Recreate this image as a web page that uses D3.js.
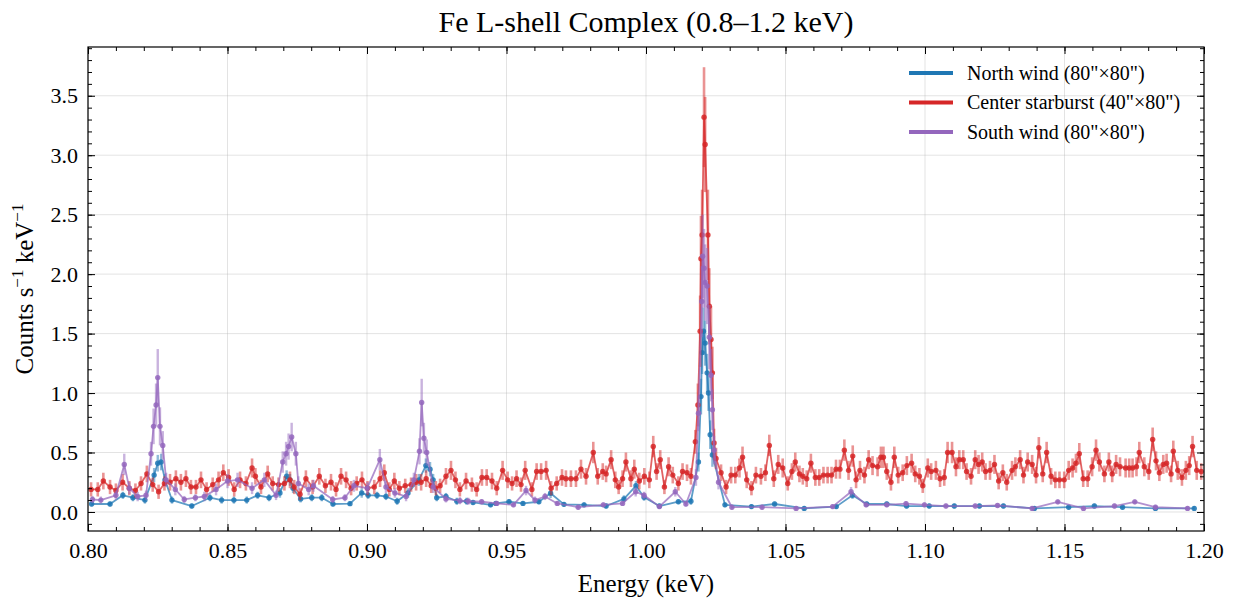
<!DOCTYPE html>
<html>
<head>
<meta charset="utf-8">
<script src="https://cdn.jsdelivr.net/npm/d3@7/dist/d3.min.js"></script>
<style>
  body { margin: 0; background: #fff; }
  svg text { font-family: "Liberation Serif", "Times New Roman", serif; fill: #000; }
</style>
</head>
<body>
<div id="chart"></div>
<script>
// ---- data ----
const seriesNames = ['North wind (80"×80")', 'Center starburst (40"×80")', 'South wind (80"×80")']
const seriesColors = ['#1f77b4', '#d62728', '#9467bd']

const xTicks = [0.80, 0.85, 0.90, 0.95, 1.00, 1.05, 1.10, 1.15, 1.20]
const xTickLabels = ['0.80', '0.85', '0.90', '0.95', '1.00', '1.05', '1.10', '1.15', '1.20']
const yTicks = [0, 0.5, 1.0, 1.5, 2.0, 2.5, 3.0, 3.5]
const yTickLabels = ['0.0', '0.5', '1.0', '1.5', '2.0', '2.5', '3.0', '3.5']

// North wind
const northE = [0.8013,0.8079,0.8125,0.8161,0.8204,0.8237,0.8250,0.8262,0.8276,0.8301,
  0.8372,0.8437,0.8479,0.8523,0.8569,0.8608,0.8649,0.8688,0.8712,0.8724,
  0.8735,0.8762,0.8802,0.8838,0.8878,0.8939,0.8981,0.9004,0.9036,0.9068,
  0.9108,0.9147,0.9186,0.9211,0.9226,0.9237,0.9250,0.9283,0.9322,0.9357,
  0.9380,0.9443,0.9462,0.9509,0.9559,0.9616,0.9658,0.9706,0.9778,0.9857,
  0.9921,0.9964,0.9993,1.0048,1.0116,1.0161,1.0188,1.0197,1.0201,1.0206,
  1.0212,1.0219,1.0224,1.0230,1.0238,1.0283,1.0378,1.0461,1.0567,1.0682,
  1.0740,1.0791,1.0863,1.0934,1.1015,1.1105,1.1195,1.1281,1.1392,1.1515,
  1.1607,1.1708,1.1826,1.1965]
const northY = [0.067,0.067,0.14,0.12,0.10,0.31,0.41,0.42,0.27,0.10,
  0.05,0.12,0.10,0.10,0.10,0.14,0.12,0.16,0.30,0.27,
  0.20,0.11,0.12,0.12,0.067,0.07,0.16,0.14,0.14,0.13,
  0.09,0.16,0.27,0.39,0.36,0.27,0.12,0.13,0.09,0.09,
  0.08,0.06,0.072,0.086,0.072,0.086,0.157,0.064,0.06,0.05,
  0.11,0.22,0.124,0.05,0.086,0.09,0.42,0.97,1.34,1.52,
  1.42,1.17,1.00,0.65,0.48,0.06,0.045,0.067,0.03,0.045,
  0.14,0.067,0.067,0.05,0.05,0.05,0.05,0.05,0.03,0.04,
  0.05,0.04,0.03,0.03]
const northErr = [0.02,0.02,0.03,0.03,0.03,0.06,0.07,0.07,0.05,0.03,
  0.02,0.03,0.03,0.03,0.03,0.03,0.03,0.04,0.05,0.05,
  0.04,0.03,0.03,0.03,0.02,0.02,0.04,0.03,0.03,0.03,
  0.03,0.04,0.05,0.06,0.06,0.05,0.03,0.03,0.03,0.03,
  0.02,0.02,0.02,0.02,0.02,0.02,0.04,0.02,0.02,0.02,
  0.03,0.04,0.03,0.02,0.02,0.03,0.08,0.15,0.18,0.20,
  0.19,0.16,0.15,0.12,0.10,0.02,0.02,0.02,0.02,0.02,
  0.03,0.02,0.02,0.02,0.02,0.02,0.02,0.02,0.02,0.02,
  0.02,0.02,0.02,0.02]

// Center starburst
const centerE = [0.8011,0.8035,0.8055,0.8079,0.8100,0.8124,0.8148,0.8170,0.8190,0.8211,
  0.8232,0.8253,0.8274,0.8294,0.8315,0.8333,0.8351,0.8369,0.8387,0.8405,
  0.8425,0.8447,0.8468,0.8485,0.8504,0.8524,0.8545,0.8566,0.8588,0.8600,
  0.8620,0.8644,0.8662,0.8683,0.8704,0.8724,0.8739,0.8760,0.8781,0.8805,
  0.8829,0.8851,0.8871,0.8889,0.8907,0.8925,0.8943,0.8963,0.8982,0.9002,
  0.9026,0.9047,0.9062,0.9080,0.9098,0.9116,0.9137,0.9158,0.9176,0.9194,
  0.9212,0.9230,0.9247,0.9262,0.9283,0.9301,0.9317,0.9333,0.9355,0.9376,
  0.9393,0.9412,0.9429,0.9448,0.9465,0.9486,0.9504,0.9520,0.9536,0.9552,
  0.9567,0.9591,0.9608,0.9624,0.9642,0.9660,0.9680,0.9699,0.9713,0.9731,
  0.9749,0.9767,0.9785,0.9811,0.9827,0.9845,0.9857,0.9875,0.9890,0.9902,
  0.9916,0.9928,0.9946,0.9958,0.9976,0.9994,1.0012,
  1.0026,1.0038,1.0051,1.0066,1.0081,1.0096,1.0116,1.0131,1.0147,1.0161,
  1.0177,1.0186,1.0194,1.0197,1.0201,1.0208,1.0212,1.0222,1.0227,1.0233,
  1.0238,1.0244,1.0251,
  1.0269,1.0287,1.0305,1.0320,1.0335,1.0346,1.0361,1.0378,1.0394,1.0412,
  1.0428,1.0442,1.0458,1.0474,1.0490,1.0508,1.0523,1.0535,1.0550,1.0562,
  1.0576,1.0591,1.0607,1.0621,1.0636,1.0651,1.0665,1.0681,1.0695,1.0711,
  1.0726,1.0741,1.0753,1.0767,1.0783,1.0798,1.0812,1.0830,1.0842,1.0851,
  1.0863,1.0878,1.0890,1.0904,1.0920,1.0935,1.0952,1.0965,1.0980,1.0992,
  1.1010,
  1.1022,1.1039,1.1054,1.1069,1.1081,1.1097,1.1111,1.1123,1.1137,1.1149,
  1.1165,1.1180,1.1192,1.1205,1.1217,1.1233,1.1249,1.1264,1.1279,1.1293,
  1.1312,1.1324,1.1341,1.1353,1.1368,1.1384,1.1398,1.1408,1.1422,1.1436,
  1.1452,1.1467,1.1482,1.1499,1.1515,1.1529,1.1541,1.1553,1.1567,1.1583,
  1.1599,1.1613,1.1625,1.1643,1.1659,1.1671,1.1685,1.1699,1.1719,1.1732,
  1.1744,1.1758,1.1768,1.1786,1.1802,1.1816,1.1828,1.1840,1.1854,1.1866,
  1.1882,1.1890,1.1906,1.1921,1.1935,1.1947,1.1959,1.1974,1.1990]
const centerY = [0.19,0.19,0.26,0.21,0.18,0.25,0.20,0.18,0.24,0.32,
  0.23,0.17,0.24,0.25,0.28,0.25,0.28,0.21,0.21,0.27,
  0.19,0.23,0.27,0.33,0.29,0.19,0.27,0.24,0.37,0.30,
  0.21,0.32,0.24,0.23,0.24,0.27,0.21,0.15,0.28,0.21,
  0.30,0.22,0.25,0.19,0.30,0.27,0.20,0.24,0.27,0.20,
  0.21,0.28,0.33,0.19,0.26,0.20,0.22,0.23,0.25,0.25,
  0.28,0.22,0.20,0.22,0.30,0.35,0.27,0.19,0.26,0.23,
  0.19,0.29,0.29,0.26,0.20,0.35,0.27,0.24,0.28,0.23,
  0.35,0.19,0.34,0.34,0.35,0.20,0.24,0.29,0.28,0.28,
  0.28,0.36,0.30,0.50,0.30,0.34,0.32,0.44,0.27,0.21,
  0.28,0.42,0.28,0.36,0.26,0.30,0.27,
  0.55,0.34,0.44,0.21,0.38,0.31,0.24,0.34,0.33,0.30,
  0.59,0.90,1.52,2.13,2.33,3.32,3.09,2.33,1.73,1.45,
  1.17,0.58,0.45,
  0.33,0.21,0.31,0.31,0.37,0.46,0.27,0.20,0.31,0.30,
  0.33,0.56,0.28,0.40,0.37,0.24,0.34,0.42,0.32,0.30,
  0.28,0.41,0.29,0.29,0.31,0.31,0.31,0.36,0.36,0.52,
  0.35,0.47,0.27,0.35,0.31,0.44,0.39,0.38,0.46,0.46,
  0.34,0.25,0.46,0.31,0.33,0.39,0.41,0.32,0.30,0.22,
  0.37,
  0.34,0.35,0.28,0.29,0.50,0.50,0.38,0.44,0.44,0.34,
  0.30,0.44,0.40,0.42,0.34,0.35,0.40,0.26,0.33,0.25,
  0.35,0.38,0.44,0.31,0.42,0.40,0.31,0.54,0.32,0.50,
  0.30,0.27,0.27,0.27,0.35,0.37,0.41,0.49,0.28,0.28,
  0.38,0.52,0.42,0.32,0.42,0.32,0.40,0.38,0.37,0.37,
  0.37,0.38,0.50,0.38,0.34,0.61,0.43,0.33,0.40,0.41,
  0.32,0.51,0.35,0.29,0.35,0.39,0.55,0.35,0.34]
const centerErr = [0.06,0.06,0.07,0.06,0.06,0.07,0.06,0.06,0.06,0.07,
  0.06,0.06,0.06,0.07,0.07,0.07,0.07,0.06,0.06,0.07,
  0.06,0.06,0.07,0.07,0.07,0.06,0.07,0.06,0.08,0.07,
  0.06,0.07,0.06,0.06,0.06,0.07,0.06,0.05,0.07,0.06,
  0.07,0.06,0.07,0.06,0.07,0.07,0.06,0.06,0.07,0.06,
  0.06,0.07,0.07,0.06,0.07,0.06,0.06,0.06,0.07,0.07,
  0.07,0.06,0.06,0.06,0.07,0.08,0.07,0.06,0.07,0.06,
  0.06,0.07,0.07,0.07,0.06,0.08,0.07,0.06,0.07,0.06,
  0.08,0.06,0.07,0.07,0.08,0.06,0.06,0.07,0.07,0.07,
  0.07,0.08,0.07,0.09,0.07,0.07,0.07,0.08,0.07,0.06,
  0.07,0.08,0.07,0.08,0.07,0.07,0.07,
  0.09,0.07,0.08,0.06,0.08,0.07,0.06,0.07,0.07,0.07,
  0.10,0.18,0.30,0.36,0.38,0.42,0.40,0.38,0.32,0.28,
  0.22,0.12,0.09,
  0.07,0.06,0.07,0.07,0.08,0.09,0.07,0.06,0.07,0.07,
  0.07,0.09,0.07,0.08,0.08,0.06,0.07,0.08,0.07,0.07,
  0.07,0.08,0.07,0.07,0.07,0.07,0.07,0.08,0.08,0.09,
  0.08,0.09,0.07,0.08,0.07,0.08,0.08,0.08,0.09,0.09,
  0.07,0.07,0.09,0.07,0.07,0.08,0.08,0.07,0.07,0.06,
  0.08,
  0.07,0.08,0.07,0.07,0.09,0.09,0.08,0.08,0.08,0.07,
  0.07,0.08,0.08,0.08,0.07,0.08,0.08,0.07,0.07,0.07,
  0.08,0.08,0.08,0.07,0.08,0.08,0.07,0.09,0.07,0.09,
  0.07,0.07,0.07,0.07,0.08,0.08,0.08,0.09,0.07,0.07,
  0.08,0.09,0.08,0.07,0.08,0.07,0.08,0.08,0.08,0.08,
  0.08,0.08,0.09,0.08,0.07,0.10,0.08,0.07,0.08,0.08,
  0.07,0.09,0.08,0.07,0.08,0.08,0.09,0.08,0.07]

// South wind
const southE = [0.8016,0.8046,0.8100,0.8130,0.8148,0.8178,0.8208,0.8226,0.8235,0.8244,
  0.8250,0.8258,0.8268,0.8280,0.8313,0.8345,0.8385,0.8417,0.8459,0.8500,
  0.8536,0.8588,0.8632,0.8674,0.8698,0.8710,0.8719,0.8730,0.8745,0.8754,
  0.8791,0.8808,0.8877,0.8921,0.8953,0.9001,0.9046,0.9068,0.9100,0.9140,
  0.9168,0.9188,0.9196,0.9204,0.9214,0.9237,0.9283,0.9333,0.9363,0.9411,
  0.9465,0.9525,0.9570,0.9602,0.9638,0.9682,0.9757,0.9847,0.9916,0.9963,
  0.9993,1.0048,1.0105,1.0143,1.0179,1.0188,1.0200,1.0203,1.0208,1.0212,
  1.0219,1.0227,1.0233,1.0238,1.0244,1.0260,1.0308,1.0416,1.0538,1.0669,
  1.0735,1.0789,1.0863,1.0932,1.0998,1.1075,1.1180,1.1260,1.1384,1.1476,
  1.1568,1.1679,1.1752,1.1826,1.1941]
const southY = [0.105,0.10,0.14,0.40,0.20,0.13,0.14,0.49,0.72,0.90,
  1.13,0.72,0.56,0.27,0.19,0.105,0.12,0.13,0.19,0.26,
  0.27,0.20,0.27,0.14,0.42,0.49,0.55,0.63,0.49,0.24,
  0.19,0.22,0.105,0.12,0.22,0.20,0.44,0.21,0.16,0.13,
  0.27,0.51,0.92,0.62,0.50,0.21,0.11,0.095,0.09,0.086,
  0.072,0.06,0.18,0.10,0.13,0.072,0.04,0.06,0.072,0.17,
  0.14,0.045,0.17,0.067,0.29,0.83,1.77,2.15,2.05,1.93,
  1.90,1.47,1.15,0.86,0.52,0.25,0.04,0.04,0.03,0.045,
  0.17,0.06,0.06,0.07,0.06,0.05,0.05,0.055,0.03,0.085,
  0.03,0.05,0.085,0.04,0.03]
const southErr = [0.03,0.03,0.04,0.09,0.05,0.04,0.04,0.10,0.15,0.18,
  0.24,0.16,0.12,0.06,0.05,0.03,0.03,0.04,0.05,0.06,
  0.06,0.05,0.06,0.04,0.09,0.10,0.11,0.12,0.10,0.06,
  0.05,0.05,0.03,0.03,0.05,0.05,0.09,0.05,0.04,0.04,
  0.06,0.11,0.20,0.13,0.11,0.05,0.03,0.03,0.03,0.02,
  0.02,0.02,0.04,0.03,0.03,0.02,0.02,0.02,0.02,0.04,
  0.03,0.02,0.04,0.02,0.07,0.15,0.30,0.35,0.33,0.32,
  0.32,0.27,0.22,0.17,0.12,0.06,0.02,0.02,0.02,0.02,
  0.04,0.02,0.02,0.02,0.02,0.02,0.02,0.02,0.02,0.02,
  0.02,0.02,0.02,0.02,0.02]

// ---- layout ----
const W = 1235, H = 609
const margin = { top: 47, right: 31, bottom: 78, left: 88 }
const pw = W - margin.left - margin.right
const ph = H - margin.top - margin.bottom

const svg = d3.select('#chart').append('svg')
  .attr('width', W).attr('height', H)

const x = d3.scaleLinear().domain([0.8, 1.2]).range([margin.left, margin.left + pw])
const y = d3.scaleLinear().domain([-0.16, 3.91]).range([margin.top + ph, margin.top])

// grid
const grid = svg.append('g')
grid.selectAll('line.gx').data(xTicks).join('line')
  .attr('x1', d => x(d)).attr('x2', d => x(d))
  .attr('y1', margin.top).attr('y2', margin.top + ph)
  .attr('stroke', '#b0b0b0').attr('stroke-opacity', 0.35).attr('stroke-width', 1)
grid.selectAll('line.gy').data(yTicks).join('line')
  .attr('y1', d => y(d)).attr('y2', d => y(d))
  .attr('x1', margin.left).attr('x2', margin.left + pw)
  .attr('stroke', '#b0b0b0').attr('stroke-opacity', 0.35).attr('stroke-width', 1)

// series
svg.append('clipPath').attr('id', 'clip').append('rect')
  .attr('x', margin.left).attr('y', margin.top).attr('width', pw).attr('height', ph)
const plot = svg.append('g').attr('clip-path', 'url(#clip)')

function drawSeries(E, Y, ERR, color, barWidth) {
  const pts = d3.zip(E, Y, ERR)
  const g = plot.append('g')
  g.selectAll('line').data(pts).join('line')
    .attr('x1', d => x(d[0])).attr('x2', d => x(d[0]))
    .attr('y1', d => y(d[1] - d[2])).attr('y2', d => y(d[1] + d[2]))
    .attr('stroke', color).attr('stroke-width', barWidth).attr('stroke-opacity', 0.5)
  g.append('path').datum(pts)
    .attr('d', d3.line().x(d => x(d[0])).y(d => y(d[1])))
    .attr('fill', 'none').attr('stroke', color)
    .attr('stroke-width', 1.8).attr('stroke-opacity', 0.72)
    .attr('stroke-linejoin', 'round')
  g.selectAll('circle').data(pts).join('circle')
    .attr('cx', d => x(d[0])).attr('cy', d => y(d[1])).attr('r', 2.7)
    .attr('fill', color).attr('fill-opacity', 0.85)
}

drawSeries(northE, northY, northErr, seriesColors[0], 2.4)
drawSeries(centerE, centerY, centerErr, seriesColors[1], 2.6)
drawSeries(southE, southY, southErr, seriesColors[2], 2.4)

// axes (ticks inward on all sides)
const xMinor = d3.range(80, 121).map(v => v / 100)
const yMinor = d3.range(-1, 40).map(v => v / 10)

function styleAxis(g) {
  g.select('.domain').remove()
  g.selectAll('.tick line').attr('stroke', '#000').attr('stroke-width', 1)
}

svg.append('g').attr('transform', `translate(0,${margin.top + ph})`)
  .call(d3.axisBottom(x).tickValues(xMinor).tickSizeInner(-4).tickSizeOuter(0).tickFormat(''))
  .call(styleAxis)
svg.append('g').attr('transform', `translate(0,${margin.top})`)
  .call(d3.axisTop(x).tickValues(xMinor).tickSizeInner(-4).tickSizeOuter(0).tickFormat(''))
  .call(styleAxis)
svg.append('g').attr('transform', `translate(${margin.left},0)`)
  .call(d3.axisLeft(y).tickValues(yMinor).tickSizeInner(-4).tickSizeOuter(0).tickFormat(''))
  .call(styleAxis)
svg.append('g').attr('transform', `translate(${margin.left + pw},0)`)
  .call(d3.axisRight(y).tickValues(yMinor).tickSizeInner(-4).tickSizeOuter(0).tickFormat(''))
  .call(styleAxis)

const xAxis = svg.append('g').attr('transform', `translate(0,${margin.top + ph})`)
  .call(d3.axisBottom(x).tickValues(xTicks).tickSizeInner(-7).tickSizeOuter(0).tickPadding(11)
    .tickFormat((d, i) => xTickLabels[i]))
  .call(styleAxis)
xAxis.selectAll('text').attr('font-size', 22).attr('font-family', '"Liberation Serif", serif')

svg.append('g').attr('transform', `translate(0,${margin.top})`)
  .call(d3.axisTop(x).tickValues(xTicks).tickSizeInner(-7).tickSizeOuter(0).tickFormat(''))
  .call(styleAxis)

const yAxis = svg.append('g').attr('transform', `translate(${margin.left},0)`)
  .call(d3.axisLeft(y).tickValues(yTicks).tickSizeInner(-7).tickSizeOuter(0).tickPadding(10)
    .tickFormat((d, i) => yTickLabels[i]))
  .call(styleAxis)
yAxis.selectAll('text').attr('font-size', 22).attr('font-family', '"Liberation Serif", serif')

svg.append('g').attr('transform', `translate(${margin.left + pw},0)`)
  .call(d3.axisRight(y).tickValues(yTicks).tickSizeInner(-7).tickSizeOuter(0).tickFormat(''))
  .call(styleAxis)

// frame
svg.append('rect')
  .attr('x', margin.left).attr('y', margin.top).attr('width', pw).attr('height', ph)
  .attr('fill', 'none').attr('stroke', '#000').attr('stroke-width', 1.2)

// labels
svg.append('text')
  .attr('x', margin.left + pw / 2).attr('y', 32)
  .attr('text-anchor', 'middle').attr('font-size', 30)
  .text('Fe L-shell Complex (0.8–1.2 keV)')

svg.append('text')
  .attr('x', margin.left + pw / 2).attr('y', 592)
  .attr('text-anchor', 'middle').attr('font-size', 25)
  .text('Energy (keV)')

const yl = svg.append('text')
  .attr('transform', `translate(33,${margin.top + ph / 2}) rotate(-90)`)
  .attr('text-anchor', 'middle').attr('font-size', 25)
yl.append('tspan').text('Counts s')
yl.append('tspan').attr('font-size', 17).attr('dy', -10).text('−1')
yl.append('tspan').attr('dy', 10).text(' keV')
yl.append('tspan').attr('font-size', 17).attr('dy', -10).text('−1')

// legend
const legend = svg.append('g')
seriesNames.forEach((name, i) => {
  const ly = 73 + i * 29.5
  legend.append('line')
    .attr('x1', 909).attr('x2', 953).attr('y1', ly).attr('y2', ly)
    .attr('stroke', seriesColors[i]).attr('stroke-width', 4)
  legend.append('text')
    .attr('x', 967).attr('y', ly).attr('dy', '0.33em')
    .attr('font-size', 20)
    .text(name)
})
</script>
</body>
</html>
